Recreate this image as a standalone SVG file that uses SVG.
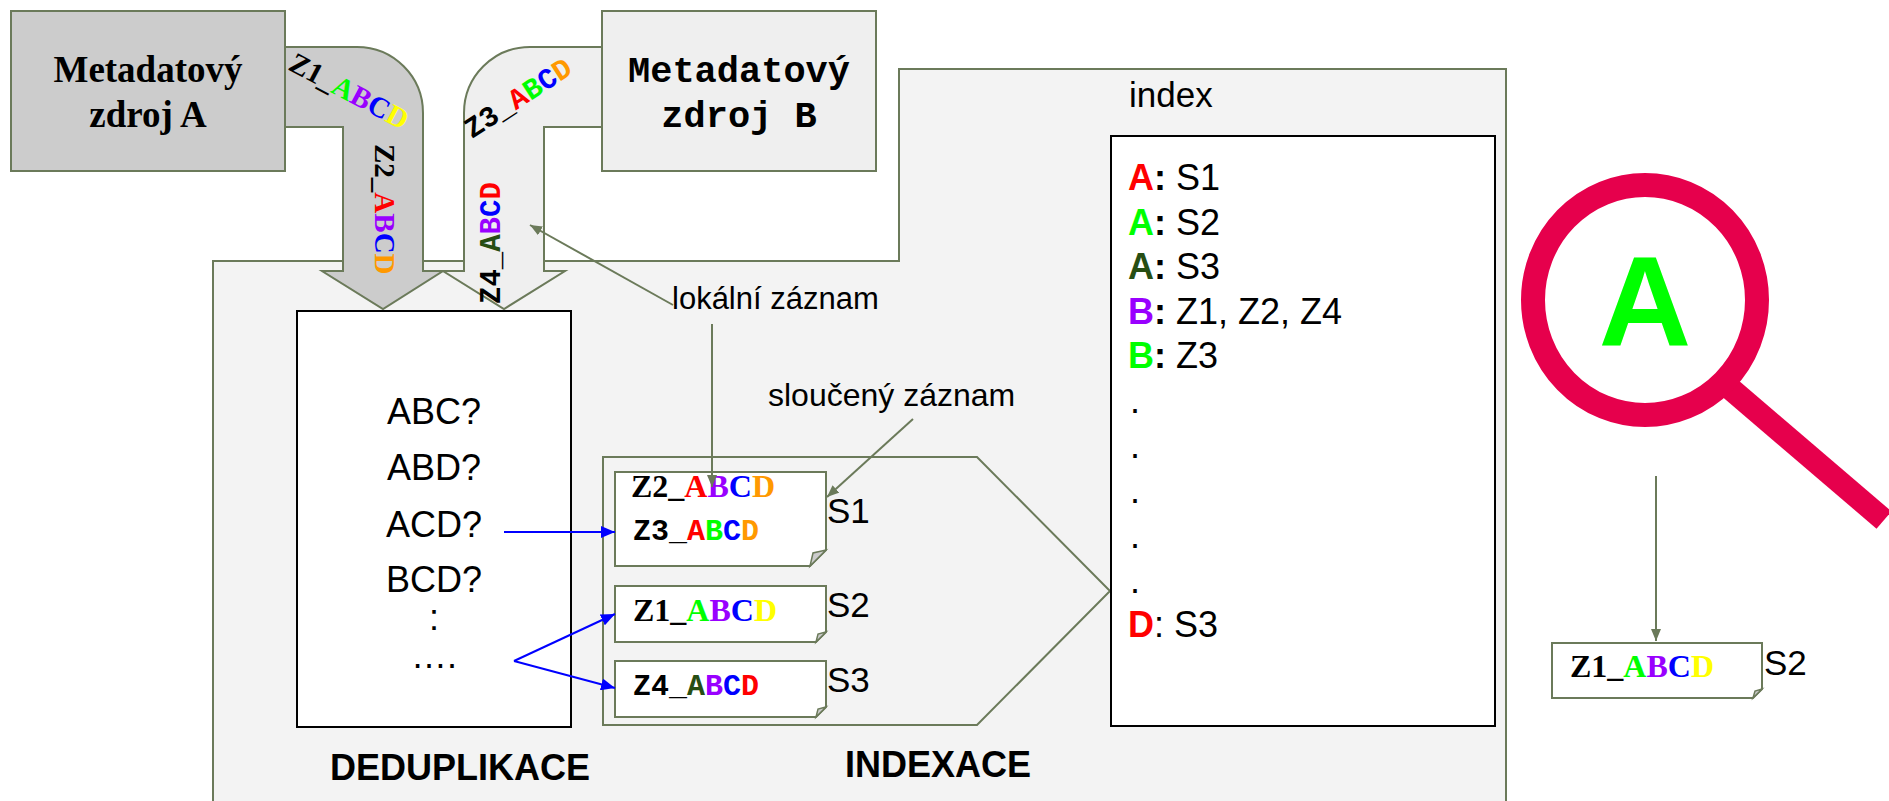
<svg xmlns="http://www.w3.org/2000/svg" width="1889" height="801" viewBox="0 0 1889 801">
<style>
.ol{stroke:#6b7a5a;stroke-width:2}
.tb{font-family:"Liberation Serif","Times New Roman",serif;font-weight:bold}
.mb{font-family:"Liberation Mono","Courier New",monospace;font-weight:bold}
.sa{font-family:"Liberation Sans",Arial,sans-serif}
.b{font-weight:bold}
.note{fill:#ffffff;stroke:#6b7a5a;stroke-width:2}
.fold{fill:#cccccc;stroke:#6b7a5a;stroke-width:1.5}
.con{fill:none;stroke:#6b7a5a;stroke-width:2}
.blue{fill:none;stroke:#0000ff;stroke-width:2}
.r{fill:#ff0000}.g{fill:#00ff00}.dg{fill:#274e13}.p{fill:#9900ff}.bl{fill:#0000ff}.y{fill:#ffff00}.o{fill:#ff9900}
</style>
<defs>
<marker id="ah-olive" viewBox="0 0 12 10" refX="12" refY="5" markerWidth="12" markerHeight="10" markerUnits="userSpaceOnUse" orient="auto"><path d="M0,0 L12,5 L0,10 z" fill="#6b7a5a"/></marker>
<marker id="ah-blue" viewBox="0 0 14 12" refX="14" refY="6" markerWidth="14" markerHeight="12" markerUnits="userSpaceOnUse" orient="auto"><path d="M0,0 L14,6 L0,12 z" fill="#0000ff"/></marker>
</defs>
<rect width="1889" height="801" fill="#ffffff"/>

<g id="index-area">
<path d="M213 806 V261 H899 V69 H1506 V806 Z" fill="#f3f3f3" class="ol"/>
<text class="sa" x="1129" y="107" font-size="35">index</text>
</g>

<g id="flow-a">
<path d="M284 47 H357 A66 66 0 0 1 423 113 V271 H443 L383 309 L322 271 H343 V127 H284 Z" fill="#cccccc" class="ol"/>
<text class="tb" font-size="29" transform="translate(287,69) rotate(28)">Z1_<tspan class="g">A</tspan><tspan class="p">B</tspan><tspan class="bl">C</tspan><tspan class="y">D</tspan></text>
<text class="tb" font-size="29" transform="translate(375,144) rotate(90)">Z2_<tspan class="r">A</tspan><tspan class="p">B</tspan><tspan class="bl">C</tspan><tspan class="o">D</tspan></text>
</g>

<g id="flow-b">
<path d="M603 47 H530 A66 66 0 0 0 464 113 V271 H443 L504 309 L565 271 H544 V127 H603 Z" fill="#efefef" class="ol"/>
<text class="mb" font-size="29" transform="translate(472,139) rotate(-33)">Z3_<tspan class="r">A</tspan><tspan class="g">B</tspan><tspan class="bl">C</tspan><tspan class="o">D</tspan></text>
<text class="mb" font-size="29" transform="translate(500,304) rotate(-90)">Z4_<tspan class="dg">A</tspan><tspan class="p">B</tspan><tspan class="bl">C</tspan><tspan class="r">D</tspan></text>
</g>

<g id="source-a">
<rect x="11" y="11" width="274" height="160" fill="#cccccc" class="ol"/>
<text class="tb" font-size="37" x="148" y="82" text-anchor="middle">Metadatový</text>
<text class="tb" font-size="37" x="148" y="127" text-anchor="middle">zdroj A</text>
</g>

<g id="source-b">
<rect x="602" y="11" width="274" height="160" fill="#efefef" class="ol"/>
<text class="mb" font-size="37" x="739" y="82" text-anchor="middle">Metadatový</text>
<text class="mb" font-size="37" x="739" y="127" text-anchor="middle">zdroj B</text>
</g>

<g id="deduplication">
<rect x="297" y="311" width="274" height="416" fill="#ffffff" stroke="#000000" stroke-width="2"/>
<g class="sa" font-size="36" text-anchor="middle">
<text x="434" y="424">ABC?</text>
<text x="434" y="480">ABD?</text>
<text x="434" y="537">ACD?</text>
<text x="434" y="592">BCD?</text>
<text x="434" y="630">:</text>
<text x="434" y="668">….</text>
</g>
<text class="sa b" font-size="36" x="460" y="780" text-anchor="middle">DEDUPLIKACE</text>
</g>

<g id="merged-records">
<polygon points="603,457 977,457 1110,591 977,725 603,725" fill="#f3f3f3" class="ol"/>
<text class="sa b" font-size="36" x="938" y="777" text-anchor="middle">INDEXACE</text>
</g>

<g id="record-s1">
<path class="note" d="M615 472 H826 V550 L810 566 H615 Z"/>
<path class="fold" d="M826 550 L810 566 L813 553 Z"/>
<text class="tb" font-size="32" x="631" y="497">Z2_<tspan class="r">A</tspan><tspan class="p">B</tspan><tspan class="bl">C</tspan><tspan class="o">D</tspan></text>
<text class="mb" font-size="30" x="633" y="540">Z3_<tspan class="r">A</tspan><tspan class="g">B</tspan><tspan class="bl">C</tspan><tspan class="o">D</tspan></text>
<text class="sa" font-size="35" x="827" y="523">S1</text>
</g>

<g id="record-s2">
<path class="note" d="M615 586 H826 V632 L816 642 H615 Z"/>
<path class="fold" d="M826 632 L816 642 L818 634 Z"/>
<text class="tb" font-size="32" x="633" y="621">Z1_<tspan class="g">A</tspan><tspan class="p">B</tspan><tspan class="bl">C</tspan><tspan class="y">D</tspan></text>
<text class="sa" font-size="35" x="827" y="617">S2</text>
</g>

<g id="record-s3">
<path class="note" d="M615 661 H826 V707 L816 717 H615 Z"/>
<path class="fold" d="M826 707 L816 717 L818 709 Z"/>
<text class="mb" font-size="30" x="633" y="695">Z4_<tspan class="dg">A</tspan><tspan class="p">B</tspan><tspan class="bl">C</tspan><tspan class="r">D</tspan></text>
<text class="sa" font-size="35" x="827" y="692">S3</text>
</g>

<g id="index-list">
<rect x="1111" y="136" width="384" height="590" fill="#ffffff" stroke="#000000" stroke-width="2"/>
<g class="sa" font-size="36">
<text x="1128" y="190"><tspan class="b r">A</tspan><tspan class="b">:</tspan> S1</text>
<text x="1128" y="235"><tspan class="b g">A</tspan><tspan class="b">:</tspan> S2</text>
<text x="1128" y="279"><tspan class="b dg">A</tspan><tspan class="b">:</tspan> S3</text>
<text x="1128" y="324"><tspan class="b p">B</tspan><tspan class="b">:</tspan> Z1, Z2, Z4</text>
<text x="1128" y="368"><tspan class="b g">B</tspan><tspan class="b">:</tspan> Z3</text>
<text x="1130" y="413">.</text>
<text x="1130" y="458">.</text>
<text x="1130" y="503">.</text>
<text x="1130" y="548">.</text>
<text x="1130" y="593">.</text>
<text x="1128" y="637"><tspan class="b r">D</tspan>: S3</text>
</g>
</g>

<g id="magnifier">
<line x1="1718" y1="378" x2="1884" y2="520" stroke="#e6004c" stroke-width="23"/>
<ellipse cx="1645" cy="300" rx="112" ry="115" fill="none" stroke="#e6004c" stroke-width="24"/>
<text class="sa b g" font-size="128" x="1645" y="346" text-anchor="middle">A</text>
</g>

<g id="result-record">
<path class="note" d="M1552 643 H1762 V689 L1753 698 H1552 Z"/>
<path class="fold" d="M1762 689 L1753 698 L1755 691 Z"/>
<text class="tb" font-size="32" x="1570" y="677">Z1_<tspan class="g">A</tspan><tspan class="p">B</tspan><tspan class="bl">C</tspan><tspan class="y">D</tspan></text>
<text class="sa" font-size="35" x="1764" y="675">S2</text>
</g>

<g id="labels">
<text class="sa" font-size="31" x="672" y="309">lokální záznam</text>
<text class="sa" font-size="32" x="768" y="406">sloučený záznam</text>
</g>

<g id="connectors">
<line class="con" x1="673" y1="305" x2="530" y2="225" marker-end="url(#ah-olive)"/>
<line class="con" x1="712" y1="324" x2="712" y2="487" marker-end="url(#ah-olive)"/>
<line class="con" x1="913" y1="419" x2="827" y2="497" marker-end="url(#ah-olive)"/>
<line class="con" x1="1656" y1="476" x2="1656" y2="641" marker-end="url(#ah-olive)"/>
<line class="blue" x1="504" y1="532" x2="615" y2="532" marker-end="url(#ah-blue)"/>
<line class="blue" x1="514" y1="661" x2="615" y2="614" marker-end="url(#ah-blue)"/>
<line class="blue" x1="514" y1="661" x2="615" y2="688" marker-end="url(#ah-blue)"/>
</g>
</svg>
